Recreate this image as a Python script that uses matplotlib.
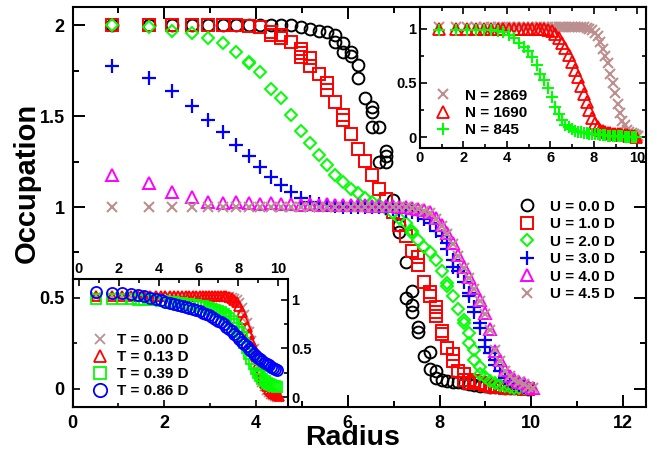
import matplotlib
matplotlib.use('Agg')
import matplotlib.pyplot as plt
from matplotlib.ticker import MultipleLocator

plt.rcParams['font.family'] = ['Liberation Sans', 'DejaVu Sans']
plt.rcParams['font.weight'] = 'bold'

W, H = 657, 457

# ---------------- data (main panel): occupation vs radius ----------------
u0 = [(0.866, 2.0), (1.658, 2.0), (2.179, 2.0), (2.598, 2.0), (2.958, 2.0), (3.279, 2.0),
      (3.571, 2.0), (3.841, 2.0), (4.093, 2.0), (4.330, 2.0), (4.555, 2.0), (4.770, 2.0),
      (4.975, 1.99), (5.172, 1.98), (5.362, 1.97), (5.545, 1.96), (5.723, 1.945), (5.723, 1.91),
      (5.895, 1.90), (5.895, 1.85), (6.062, 1.85), (6.062, 1.83), (6.225, 1.78), (6.225, 1.71),
      (6.384, 1.60), (6.538, 1.55), (6.538, 1.52), (6.538, 1.44), (6.690, 1.44), (6.690, 1.25),
      (6.837, 1.31), (6.837, 1.28), (6.837, 1.25), (6.982, 1.04), (7.124, 0.90), (7.124, 0.86),
      (7.263, 0.70), (7.263, 0.50), (7.399, 0.54), (7.399, 0.46), (7.399, 0.42), (7.533, 0.34),
      (7.533, 0.31), (7.665, 0.18), (7.794, 0.20), (7.794, 0.11), (7.921, 0.10), (7.921, 0.06),
      (8.047, 0.05), (8.170, 0.045), (8.292, 0.04), (8.411, 0.035), (8.529, 0.03), (8.646, 0.025),
      (8.761, 0.02), (8.874, 0.018), (8.986, 0.015), (9.097, 0.012), (9.206, 0.01), (9.314, 0.008),
      (9.421, 0.006), (9.526, 0.005), (9.631, 0.004), (9.734, 0.003), (9.836, 0.002), (9.937, 0.001)]

u1 = [(0.866, 2.0), (1.658, 2.0), (2.179, 2.0), (2.598, 2.0), (2.958, 2.0), (3.279, 2.0),
      (3.571, 2.0), (3.841, 1.995), (4.093, 1.99), (4.330, 1.965), (4.330, 1.945), (4.555, 1.945),
      (4.555, 1.93), (4.770, 1.91), (4.975, 1.87), (4.975, 1.845), (4.975, 1.825), (5.172, 1.82),
      (5.172, 1.775), (5.362, 1.73), (5.545, 1.68), (5.545, 1.645), (5.723, 1.575), (5.895, 1.505),
      (5.895, 1.48), (6.062, 1.40), (6.225, 1.32), (6.384, 1.255), (6.538, 1.175), (6.690, 1.10),
      (6.837, 1.045), (6.982, 0.97), (7.124, 0.90), (7.263, 0.84), (7.399, 0.76), (7.533, 0.725),
      (7.533, 0.68), (7.665, 0.59), (7.794, 0.53), (7.794, 0.51), (7.921, 0.45), (7.921, 0.42),
      (7.921, 0.40), (8.047, 0.32), (8.047, 0.30), (8.170, 0.225), (8.292, 0.19), (8.292, 0.155),
      (8.411, 0.10), (8.529, 0.08), (8.529, 0.05), (8.646, 0.05), (8.646, 0.03), (8.761, 0.045),
      (8.874, 0.03), (8.986, 0.02), (9.097, 0.015), (9.206, 0.01), (9.314, 0.008), (9.421, 0.006),
      (9.526, 0.004), (9.631, 0.003), (9.734, 0.002), (9.836, 0.001), (9.937, 0.0)]

u2 = [(0.866, 2.0), (1.658, 1.99), (2.179, 1.97), (2.598, 1.955), (2.958, 1.93), (3.279, 1.90),
      (3.571, 1.855), (3.841, 1.80), (3.841, 1.79), (4.093, 1.745), (4.330, 1.65), (4.555, 1.60),
      (4.770, 1.505), (4.975, 1.42), (5.172, 1.35), (5.362, 1.285), (5.545, 1.23), (5.723, 1.175),
      (5.895, 1.14), (6.062, 1.10), (6.225, 1.075), (6.384, 1.05), (6.538, 1.03), (6.690, 1.01),
      (6.837, 0.99), (6.982, 0.965), (7.124, 0.94), (7.263, 0.91), (7.399, 0.87), (7.399, 0.855),
      (7.533, 0.82), (7.665, 0.78), (7.794, 0.755), (7.921, 0.71), (8.047, 0.65), (8.170, 0.58),
      (8.170, 0.565), (8.292, 0.51), (8.411, 0.44), (8.529, 0.38), (8.529, 0.36), (8.646, 0.305),
      (8.646, 0.25), (8.761, 0.215), (8.761, 0.16), (8.874, 0.12), (8.874, 0.08), (8.986, 0.065),
      (9.097, 0.045), (9.206, 0.03), (9.314, 0.022), (9.421, 0.015), (9.526, 0.01), (9.631, 0.006),
      (9.734, 0.004), (9.836, 0.002), (9.937, 0.0)]

u3 = [(0.866, 1.775), (1.658, 1.71), (2.179, 1.64), (2.598, 1.555), (2.958, 1.48), (3.279, 1.41),
      (3.571, 1.34), (3.841, 1.28), (4.093, 1.22), (4.330, 1.165), (4.555, 1.12), (4.770, 1.08),
      (4.975, 1.05), (5.172, 1.03), (5.362, 1.015), (5.545, 1.01), (5.723, 1.005), (5.895, 1.0),
      (6.062, 1.0), (6.225, 1.0), (6.384, 1.0), (6.538, 1.0), (6.690, 1.0), (6.837, 0.995),
      (6.982, 0.99), (7.124, 0.985), (7.263, 0.98), (7.399, 0.97), (7.533, 0.955), (7.665, 0.935),
      (7.794, 0.91), (7.921, 0.87), (8.047, 0.84), (8.170, 0.80), (8.170, 0.77), (8.292, 0.71),
      (8.292, 0.67), (8.411, 0.65), (8.529, 0.59), (8.646, 0.525), (8.646, 0.51), (8.761, 0.45),
      (8.761, 0.425), (8.874, 0.36), (8.874, 0.335), (8.986, 0.27), (8.986, 0.23), (9.097, 0.195),
      (9.206, 0.16), (9.206, 0.13), (9.314, 0.10), (9.421, 0.06), (9.526, 0.045), (9.631, 0.03),
      (9.734, 0.02), (9.836, 0.01), (9.937, 0.0)]

u4 = [(0.866, 1.175), (1.658, 1.13), (2.179, 1.08), (2.598, 1.055), (2.958, 1.03), (3.279, 1.02),
      (3.571, 1.03), (3.841, 1.02), (4.093, 1.015), (4.330, 1.02), (4.555, 1.015), (4.770, 1.015),
      (4.975, 1.01), (5.172, 1.015), (5.362, 1.01), (5.545, 1.015), (5.723, 1.01), (5.895, 1.01),
      (6.062, 1.01), (6.225, 1.01), (6.384, 1.01), (6.538, 1.005), (6.690, 1.005), (6.837, 1.005),
      (6.982, 1.005), (7.124, 1.0), (7.263, 1.0), (7.399, 0.995), (7.533, 0.99), (7.665, 0.985),
      (7.794, 0.97), (7.921, 0.94), (8.047, 0.90), (8.170, 0.855), (8.292, 0.80), (8.411, 0.735),
      (8.529, 0.67), (8.646, 0.615), (8.761, 0.555), (8.874, 0.49), (8.986, 0.415), (9.097, 0.33),
      (9.206, 0.21), (9.314, 0.16), (9.421, 0.105), (9.526, 0.07), (9.631, 0.055), (9.734, 0.04),
      (9.836, 0.03), (9.937, 0.015), (10.04, 0.005)]

u45 = [(0.866, 1.0), (1.658, 1.0), (2.179, 1.0), (2.598, 1.0), (2.958, 1.0), (3.279, 1.0),
       (3.571, 1.0), (3.841, 1.0), (4.093, 1.0), (4.330, 1.0), (4.555, 1.0), (4.770, 1.0),
       (4.975, 1.0), (5.172, 1.0), (5.362, 1.0), (5.545, 1.0), (5.723, 1.0), (5.895, 1.0),
       (6.062, 1.0), (6.225, 1.0), (6.384, 1.0), (6.538, 1.0), (6.690, 1.0), (6.837, 1.0),
       (6.982, 1.0), (7.124, 1.0), (7.263, 1.0), (7.399, 0.995), (7.533, 0.99), (7.665, 0.98),
       (7.794, 0.965), (7.921, 0.935), (8.047, 0.895), (8.170, 0.85), (8.292, 0.795), (8.411, 0.73),
       (8.529, 0.665), (8.646, 0.61), (8.761, 0.55), (8.874, 0.485), (8.986, 0.41), (9.097, 0.325),
       (9.206, 0.215), (9.314, 0.155), (9.421, 0.10), (9.526, 0.068), (9.631, 0.05), (9.734, 0.035),
       (9.836, 0.025), (9.937, 0.012), (10.04, 0.004)]

main_labels = ['U = 0.0 D', 'U = 1.0 D', 'U = 2.0 D', 'U = 3.0 D', 'U = 4.0 D', 'U = 4.5 D']

# ---------------- inset 1 (top right): particle number ----------------
radii = [0.866, 1.658, 2.179, 2.598, 2.958, 3.279, 3.571, 3.841, 4.093, 4.330, 4.555, 4.770,
         4.975, 5.172, 5.362, 5.545, 5.723, 5.895, 6.062, 6.225, 6.384, 6.538, 6.690, 6.837,
         6.982, 7.124, 7.263, 7.399, 7.533, 7.665, 7.794, 7.921, 8.047, 8.170, 8.292, 8.411,
         8.529, 8.646, 8.761, 8.874, 8.986, 9.097, 9.206, 9.314, 9.421, 9.526, 9.631, 9.734,
         9.836, 9.937, 10.04]

n2869 = [1.02, 1.02, 1.02, 1.02, 1.02, 1.02, 1.02, 1.02, 1.02, 1.02, 1.02, 1.02,
         1.02, 1.02, 1.02, 1.02, 1.02, 1.02, 1.02, 1.02, 1.02, 1.02, 1.02, 1.02,
         1.02, 1.02, 1.02, 1.02, 1.015, 1.01, 1.0, 0.985, 0.96, 0.93, 0.88, 0.81,
         0.75, 0.68, 0.58, 0.50, 0.41, 0.31, 0.22, 0.15, 0.11, 0.07, 0.05, 0.035,
         0.025, 0.02, 0.015]
n1690 = [1.0, 1.0, 1.0, 1.0, 1.0, 1.0, 1.0, 1.0, 1.0, 1.0, 1.0, 1.0,
         1.0, 1.0, 1.0, 1.0, 0.995, 0.99, 0.975, 0.95, 0.91, 0.87, 0.82, 0.76,
         0.69, 0.62, 0.55, 0.47, 0.40, 0.32, 0.25, 0.18, 0.13, 0.095, 0.07, 0.055,
         0.045, 0.04, 0.035, 0.032, 0.03, 0.028, 0.025, 0.022, 0.02, 0.018, 0.015, 0.012,
         0.01, 0.005]
n845 = [0.985, 0.99, 0.99, 0.99, 0.985, 0.985, 0.98, 0.97, 0.945, 0.91, 0.865, 0.83,
        0.79, 0.74, 0.665, 0.58, 0.53, 0.45, 0.37, 0.28, 0.21, 0.16, 0.115, 0.09,
        0.075, 0.06, 0.05, 0.045, 0.04, 0.035, 0.03, 0.03, 0.025, 0.025, 0.02, 0.02,
        0.02, 0.015, 0.015, 0.015, 0.01, 0.01, 0.01, 0.01, 0.005, 0.005, 0.005, 0.0,
        0.0, 0.0]
n_labels = ['N = 2869', 'N = 1690', 'N = 845']

# ---------------- inset 2 (bottom left): temperature ----------------
t000 = [1.03, 1.03, 1.03, 1.03, 1.03, 1.03, 1.03, 1.03, 1.03, 1.03, 1.03, 1.03,
        1.03, 1.03, 1.03, 1.03, 1.03, 1.03, 1.03, 1.03, 1.03, 1.03, 1.03, 1.03,
        1.03, 1.03, 1.03, 1.03, 1.025, 1.02, 1.01, 0.99, 0.96, 0.91, 0.84, 0.76,
        0.67, 0.58, 0.49, 0.40, 0.31, 0.23, 0.16, 0.11, 0.07, 0.05, 0.03, 0.02,
        0.01, 0.005]
t013 = [1.04, 1.04, 1.04, 1.04, 1.04, 1.04, 1.04, 1.04, 1.04, 1.04, 1.04, 1.04,
        1.04, 1.04, 1.04, 1.04, 1.04, 1.04, 1.04, 1.04, 1.04, 1.04, 1.04, 1.04,
        1.04, 1.04, 1.04, 1.035, 1.03, 1.02, 1.0, 0.97, 0.93, 0.87, 0.80, 0.72,
        0.65, 0.58, 0.50, 0.42, 0.34, 0.27, 0.20, 0.15, 0.11, 0.08, 0.06, 0.04,
        0.03, 0.02, 0.01]
t039 = [1.01, 1.01, 1.01, 1.005, 1.0, 1.0, 0.995, 0.99, 0.985, 0.98, 0.975, 0.97,
        0.965, 0.96, 0.955, 0.95, 0.945, 0.94, 0.935, 0.93, 0.92, 0.915, 0.905, 0.895,
        0.885, 0.87, 0.855, 0.835, 0.81, 0.78, 0.745, 0.71, 0.665, 0.615, 0.56, 0.50,
        0.445, 0.39, 0.34, 0.29, 0.25, 0.215, 0.185, 0.165, 0.15, 0.14, 0.13, 0.12,
        0.11, 0.10]
t086 = [1.08, 1.07, 1.065, 1.06, 1.045, 1.035, 1.02, 1.005, 0.99, 0.975, 0.965, 0.955,
        0.945, 0.935, 0.925, 0.915, 0.905, 0.89, 0.88, 0.865, 0.855, 0.84, 0.82, 0.80,
        0.785, 0.765, 0.745, 0.72, 0.70, 0.675, 0.65, 0.625, 0.595, 0.57, 0.545, 0.52,
        0.495, 0.47, 0.445, 0.425, 0.405, 0.39, 0.37, 0.355, 0.34, 0.325, 0.31, 0.295,
        0.285, 0.275]
t_labels = ['T = 0.00 D', 'T = 0.13 D', 'T = 0.39 D', 'T = 0.86 D']

# ---------------- styles ----------------
BLACK, RED, GREEN, BLUE, MAG, BROWN = 'black', '#ff0000', '#00ff00', '#0000ff', '#ff00ff', '#bc8f8f'


def fx(px):
    return px / W


def fy(py):
    return 1 - py / H


def style_ticks(ax, major_len, minor_len, width, size, pad):
    ax.tick_params(which='both', direction='in', width=width, labelsize=size, pad=pad)
    ax.tick_params(which='major', length=major_len)
    ax.tick_params(which='minor', length=minor_len)
    for t in ax.get_xticklabels() + ax.get_yticklabels():
        t.set_fontweight('bold')


fig = plt.figure(figsize=(W / 100, H / 100), dpi=100)

# ---------------- main axes ----------------
ax = fig.add_axes([fx(72.5), fy(407), fx(646 - 72.5), (407 - 7) / H])
ax.set_xlim(0, 12.5)
ax.set_ylim(-0.1, 2.1)
ax.xaxis.set_major_locator(MultipleLocator(2))
ax.xaxis.set_minor_locator(MultipleLocator(1))
ax.set_yticks([0, 0.5, 1, 1.5, 2])
ax.set_yticklabels(['0', '0.5', '1', '1.5', '2'])
ax.yaxis.set_minor_locator(MultipleLocator(0.25))
ax.tick_params(which='both', top=True, right=True)
style_ticks(ax, 8.5, 4, 1.4, 13, 5.5)
for s in ax.spines.values():
    s.set_linewidth(1.5)

series = [
    (u0, dict(marker='o', ms=8.5, mfc='none', mec=BLACK, mew=1.4)),
    (u1, dict(marker='s', ms=8, mfc='none', mec=RED, mew=1.4)),
    (u2, dict(marker='D', ms=6.5, mfc='none', mec=GREEN, mew=1.4)),
    (u3, dict(marker='+', ms=10, mec=BLUE, mew=1.6)),
    (u4, dict(marker='^', ms=9, mfc='none', mec=MAG, mew=1.4)),
    (u45, dict(marker='x', ms=7, mec=BROWN, mew=1.5)),
]
handles = []
for pts, st in series:
    xs, ys = zip(*pts)
    h, = ax.plot(xs, ys, ls='none', **st)
    handles.append(h)
ax.legend(handles, main_labels, loc='upper left',
          bbox_to_anchor=(fx(519.4), fy(199.7)), bbox_transform=fig.transFigure,
          frameon=False, borderpad=0, borderaxespad=0, handlelength=1.0,
          handletextpad=1.0, labelspacing=0.227, prop={'weight': 'bold', 'size': 11})
ax.set_xlabel('Radius', fontsize=20.5, fontweight='bold')
ax.xaxis.set_label_coords(0.488, -0.045)
ax.set_ylabel('Occupation', fontsize=21, fontweight='bold')
ax.yaxis.set_label_coords(-0.055, 0.56)

# ---------------- inset 1 ----------------
a1 = fig.add_axes([fx(420), fy(148), fx(646 - 420), (148 - 7) / H])
a1.set_facecolor('white')
a1.set_xlim(0, 10.4)
a1.set_ylim(-0.1, 1.2)
a1.xaxis.set_major_locator(MultipleLocator(2))
a1.xaxis.set_minor_locator(MultipleLocator(1))
a1.set_yticks([0, 0.5, 1])
a1.set_yticklabels(['0', '0.5', '1'])
a1.yaxis.set_minor_locator(MultipleLocator(0.25))
a1.tick_params(which='both', top=True, right=True)
style_ticks(a1, 5, 3, 1.2, 10.5, 2.5)
for s in a1.spines.values():
    s.set_linewidth(1.5)
ins1 = [
    (n2869, dict(marker='x', ms=7, mec=BROWN, mew=1.5)),
    (n1690, dict(marker='^', ms=8.5, mfc='none', mec=RED, mew=1.3)),
    (n845, dict(marker='+', ms=9, mec=GREEN, mew=1.5)),
]
h1 = []
for ys, st in ins1:
    h, = a1.plot(radii[:len(ys)], ys, ls='none', **st)
    h1.append(h)
a1.legend(h1, n_labels, loc='upper left',
          bbox_to_anchor=(fx(435.7), fy(88.7)), bbox_transform=fig.transFigure,
          frameon=False, borderpad=0, borderaxespad=0, handlelength=1.0,
          handletextpad=0.92, labelspacing=0.21, prop={'weight': 'bold', 'size': 11})

# ---------------- inset 2 ----------------
rect2 = [fx(73), fy(407), fx(288 - 73), (407 - 279) / H]
a2 = fig.add_axes(rect2)
a2.set_facecolor('white')
a2.set_xlim((73 - 72.5) / 45.85, (288 - 72.5) / 45.85)
a2.set_ylim(-0.1, (389 - 279) / 182)
a2.xaxis.set_major_locator(MultipleLocator(2))
a2.xaxis.set_minor_locator(MultipleLocator(1))
a2.yaxis.set_major_locator(MultipleLocator(0.5))
a2.yaxis.set_minor_locator(MultipleLocator(0.25))
a2.tick_params(which='both', direction='in', labelbottom=False, labelleft=False,
               width=1.2)
a2.tick_params(which='major', length=5)
a2.tick_params(which='minor', length=3)
for s in a2.spines.values():
    s.set_linewidth(1.5)

b2 = fig.add_axes(rect2)
b2.patch.set_visible(False)
b2.set_xlim(-0.3, 10.49)
b2.set_ylim(-0.1, 1.21)
b2.xaxis.set_major_locator(MultipleLocator(2))
b2.xaxis.set_minor_locator(MultipleLocator(1))
b2.set_yticks([0, 0.5, 1])
b2.set_yticklabels(['0', '0.5', '1'])
b2.yaxis.set_minor_locator(MultipleLocator(0.25))
b2.tick_params(which='both', bottom=False, left=False, top=True, right=True,
               labelbottom=False, labelleft=False, labeltop=True, labelright=True)
style_ticks(b2, 5, 3, 1.2, 10.5, 2.5)
for s in b2.spines.values():
    s.set_visible(False)
ins2 = [
    (t000, dict(marker='x', ms=6.5, mec=BROWN, mew=1.3)),
    (t013, dict(marker='^', ms=7.5, mfc='none', mec=RED, mew=1.3)),
    (t039, dict(marker='s', ms=7, mfc='none', mec=GREEN, mew=1.3)),
    (t086, dict(marker='o', ms=8, mfc='none', mec=BLUE, mew=1.3)),
]
h2 = []
for ys, st in ins2:
    h, = b2.plot(radii[:len(ys)], ys, ls='none', **st)
    h2.append(h)
b2.legend(h2, t_labels, loc='upper left',
          bbox_to_anchor=(fx(92.1), fy(333)), bbox_transform=fig.transFigure,
          frameon=False, borderpad=0, borderaxespad=0, handlelength=1.0,
          handletextpad=0.65, labelspacing=0.194, markerscale=1.2,
          prop={'weight': 'bold', 'size': 11})

fig.savefig('out.png', dpi=100)
